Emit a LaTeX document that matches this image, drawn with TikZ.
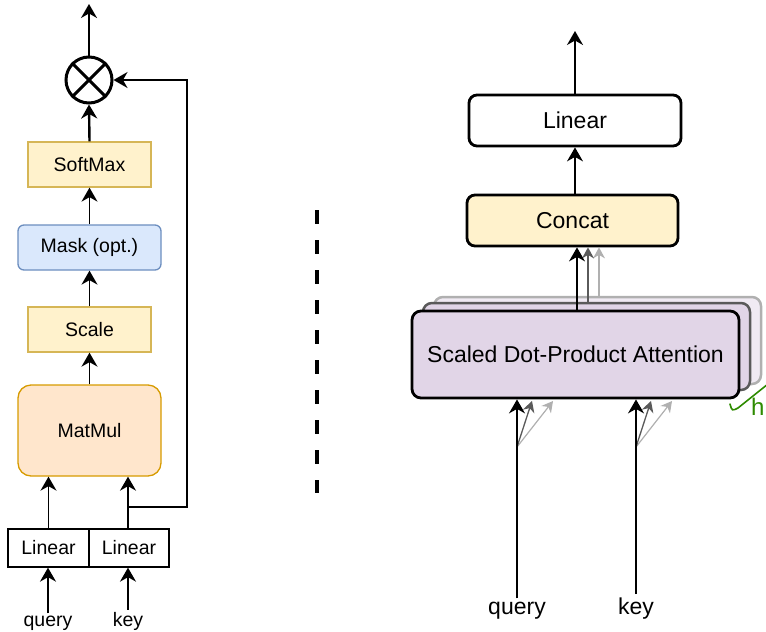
\documentclass[tikz,border=0pt]{standalone}
\usepackage{fontspec}
\setmainfont{Liberation Sans}
\usetikzlibrary{arrows.meta,calc}

\definecolor{yfill}{HTML}{FFF2CC}
\definecolor{ydraw}{HTML}{D6B656}
\definecolor{bfill}{HTML}{DAE8FC}
\definecolor{bdraw}{HTML}{6C8EBF}
\definecolor{ofill}{HTML}{FFE6CC}
\definecolor{odraw}{HTML}{D79B00}
\definecolor{pfill}{HTML}{E1D5E7}
\definecolor{pfillb}{HTML}{F0EAF3}
\definecolor{gdark}{HTML}{5A5A5A}
\definecolor{glight}{HTML}{B0B0B0}
\definecolor{hgreen}{HTML}{2E8B00}

\tikzset{
  flow/.style={draw=black,line width=1.5pt,-{Stealth[length=14pt,width=16pt,inset=4.5pt]}},
  thin flow/.style={line width=1.3pt,-{Stealth[length=11pt,width=12pt,inset=3.5pt]}},
  leftfont/.style={font=\fontsize{19.5}{22}\selectfont},
  rightfont/.style={font=\fontsize{23}{26}\selectfont},
  lbox/.style={draw,line width=1.3pt,inner sep=0pt,leftfont},
  rbox/.style={draw=black,line width=2.8pt,rounded corners=8pt,inner sep=0pt,rightfont},
  label/.style={inner sep=0pt}
}

\begin{document}
\begin{tikzpicture}[x=1pt,y=-1pt]
\clip (0,0) rectangle (766,632);

% ---------------- left: scaled dot-product attention ----------------
\node[lbox,fill=yfill,draw=ydraw,minimum width=123,minimum height=45] (softmax) at (89.5,164.5) {SoftMax};
\node[lbox,fill=bfill,draw=bdraw,rounded corners=6pt,minimum width=143,minimum height=45] (mask) at (89.5,247.5) {Mask (opt.)};
\node[lbox,fill=yfill,draw=ydraw,minimum width=123,minimum height=45] (scale) at (89.5,329.5) {Scale};
\node[lbox,fill=ofill,draw=odraw,rounded corners=13pt,minimum width=143,minimum height=91] (matmul) at (89.5,430.5) {MatMul};
\node[lbox,draw=black,minimum width=81,minimum height=38] (linq) at (48.5,548) {Linear};
\node[lbox,draw=black,minimum width=80,minimum height=38] (link) at (129,548) {Linear};
\node[label,leftfont,anchor=base] (ql) at (48,626) {query};
\node[label,leftfont,anchor=base] (kl) at (128,626) {key};

\node[circle,draw=black,line width=3pt,minimum size=46,inner sep=0pt] (mul) at (89,80) {};
\draw[line width=3pt] (mul.north west) -- (mul.south east);
\draw[line width=3pt] (mul.north east) -- (mul.south west);

\coordinate (outL) at (89,4);
\draw[flow] (mul.north) -- (outL);
\draw[flow,line width=2.4pt] (softmax.north) -- (mul.south);
\draw[flow] (mask.north -| softmax.north) -- (softmax.south);
\draw[flow] (scale.north) -- (mask.south);
\draw[flow] (matmul.north) -- (scale.south);
\draw[flow] (linq.north) -- (linq.north |- matmul.south);
\draw[flow] (link.north -| kl.north) -- (kl.north |- matmul.south);
\draw[flow] ($(ql.north)+(0,-2)$) -- (ql.north |- linq.south);
\draw[flow] ($(kl.north)+(0,-2)$) -- (kl.north |- link.south);

% key branch routed back to the product
\coordinate (fb) at (128,507);
\coordinate (fbr) at (187,507);
\coordinate (fbt) at (187,80);
\draw[flow] (fb) -- (fbr) -- (fbt) -- (mul.east);

% ---------------- separator ----------------
\coordinate (sepa) at (317,210);
\coordinate (sepb) at (317,493);
\draw[line width=4pt,dash pattern=on 14pt off 16pt] (sepa) -- (sepb);

% ---------------- right: multi-head attention ----------------
\node[rbox,fill=white,minimum width=212,minimum height=51] (linr) at (575,120.5) {Linear};
\node[rbox,fill=yfill,minimum width=211,minimum height=51] (concat) at (572.5,220.5) {Concat};

\node[rbox,draw=glight,fill=pfillb,line width=2.5pt,rounded corners=9pt,minimum width=327,minimum height=87] (sdpa3) at (597.5,340.5) {};
\node[rbox,draw=gdark,fill=pfill,line width=2.5pt,rounded corners=9pt,minimum width=327,minimum height=87] (sdpa2) at (586.5,346.5) {};
\node[rbox,fill=pfill,rounded corners=9pt,minimum width=327,minimum height=87] (sdpa) at (575.5,354.5) {Scaled Dot-Product Attention};

\coordinate (outR) at (575,31);
\draw[flow] (linr.north) -- (outR);
\draw[flow] (concat.north -| linr.north) -- (linr.south);

% heads into concat
\coordinate (h1) at (577,0);
\coordinate (h2) at (588,0);
\coordinate (h3) at (599,0);
\draw[thin flow,draw=glight,fill=glight] (h3 |- sdpa3.north) -- (h3 |- concat.south);
\draw[thin flow,draw=gdark,fill=gdark] (h2 |- sdpa2.north) -- (h2 |- concat.south);
\draw[flow] (h1 |- sdpa.north) -- (h1 |- concat.south);

% query / key inputs
\node[label,rightfont,anchor=base] (qr) at (517,614) {query};
\node[label,rightfont,anchor=base] (kr) at (636,614) {key};

\coordinate (qb) at (517,447);
\coordinate (qt2) at (532,401);
\coordinate (qt3) at (553,401);
\draw[thin flow,draw=glight,line width=1.2pt] (qb) -- (qt3);
\draw[thin flow,draw=gdark] (qb) -- (qt2);
\draw[flow] ($(qr.north)+(0,-3)$) -- (qr.north |- sdpa.south);

\coordinate (kb) at (636,447);
\coordinate (kt2) at (651,401);
\coordinate (kt3) at (672,401);
\draw[thin flow,draw=glight,line width=1.2pt] (kb) -- (kt3);
\draw[thin flow,draw=gdark] (kb) -- (kt2);
\draw[flow] ($(kr.north)+(0,-3)$) -- (kr.north |- sdpa.south);

% number of heads
\coordinate (ga) at (730,404);
\coordinate (gb) at (768,384);
\draw[hgreen,line width=1.6pt,line cap=round] (ga) .. controls (732,411) .. (738,408) -- (gb);
\node[label,hgreen,anchor=base west,font=\fontsize{24}{26}\selectfont] (hl) at (751,415) {h};
\end{tikzpicture}
\end{document}
